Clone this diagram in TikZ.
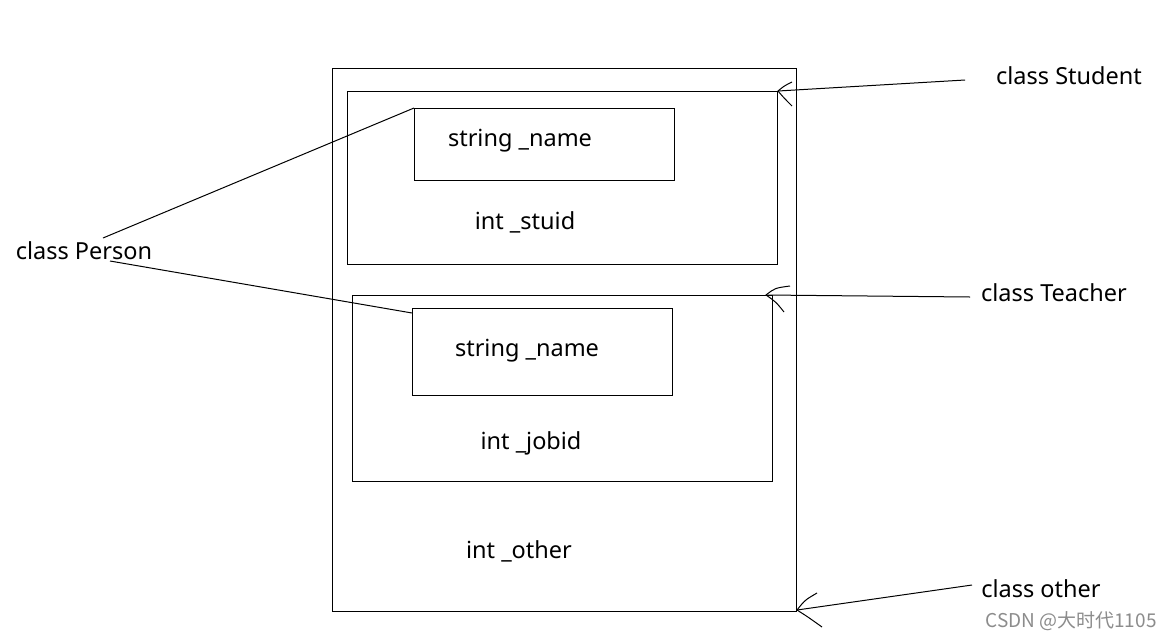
\documentclass[tikz,border=0pt]{standalone}
\usepackage{fontspec}
\setmainfont{Noto Sans}
\newfontfamily\cjk{Noto Sans CJK SC}
\begin{document}
\begin{tikzpicture}[x=1pt,y=-1pt,
  box/.style={draw=black,line width=1pt},
  ln/.style={draw=black,line width=1pt},
  lbl/.style={inner sep=0pt,font=\fontsize{23.5}{28}\selectfont,text=black,yshift=-2.5pt},
]
\useasboundingbox[fill=white] (0,0) rectangle (1174,640);
% boxes
\draw[box] (332,68) rectangle (796,611);
\draw[box] (347,91) rectangle (777,264);
\draw[box] (414,108) rectangle (674,180);
\draw[box] (352,295) rectangle (772,481);
\draw[box] (412,308) rectangle (672,395);
% texts inside
\node[lbl] (n1) at (520,138) {string \_name};
\node[lbl] (s1) at (525,220) {int \_stuid};
\node[lbl] (n2) at (527,348) {string \_name};
\node[lbl] (j1) at (531,441) {int \_jobid};
\node[lbl] (o1) at (519,549) {int \_other};
% outer labels
\node[lbl] (person) at (84,248) {class Person};
\node[lbl] (student) at (1069,73) {class Student};
\node[lbl] (teacher) at (1054,290) {class Teacher};
\node[lbl] (other) at (1041,586) {class other};
\node[inner sep=0pt,font=\cjk\fontsize{19}{22}\selectfont,text=black!45] (wm) at (1071,621) {CSDN @大时代1105};
% coordinates
\coordinate (pA) at (103,238);
\coordinate (pB) at (110,261);
\coordinate (nA) at (414,108);
\coordinate (nB) at (412,313);
\draw[ln] (pA) -- (nA);
\draw[ln] (pB) -- (nB);
% student arrow
\coordinate (sS) at (965,80);
\coordinate (sT) at (778,91);
\draw[ln] (sS) -- (sT);
\draw[ln] (792,82) .. controls (784,86) .. (sT) .. controls (784,98) .. (792,106);
% teacher arrow
\coordinate (tS) at (970,297);
\coordinate (tT) at (766,295);
\draw[ln] (tS) -- (tT);
\draw[ln] (790,286) .. controls (775,288) .. (tT) .. controls (776,302) .. (784,312);
% other arrow
\coordinate (oS) at (972,585);
\coordinate (oT) at (797,610);
\draw[ln] (oS) -- (oT);
\draw[ln] (817,593) .. controls (805,600) .. (oT) .. controls (808,617) .. (822,627);
\end{tikzpicture}
\end{document}
